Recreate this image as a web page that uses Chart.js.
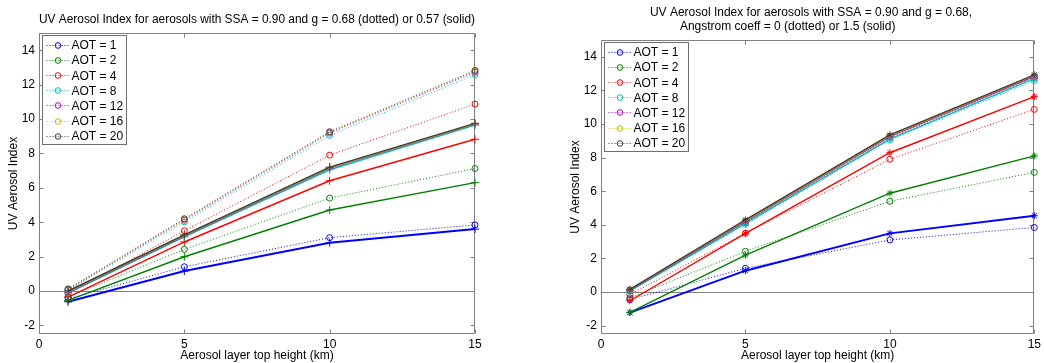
<!DOCTYPE html>
<html><head><meta charset="utf-8">
<script src="https://cdn.jsdelivr.net/npm/chart.js@4.4.1/dist/chart.umd.min.js"></script>
<style>
html,body{margin:0;padding:0;background:#fff;}
#wrap{position:relative;width:1044px;height:363px;overflow:hidden;background:#fff;}
canvas{position:absolute;top:0;}
#c1{left:0;} #c2{left:520px;}
</style></head><body>
<div id="wrap"><canvas id="c1" width="520" height="363"></canvas><canvas id="c2" width="524" height="363"></canvas></div>
<script>
// ---- data ----
const heights = [1, 5, 10, 15];
const aotValues = [1, 2, 4, 8, 12, 16, 20];
const aotColors = ['#0000ff', '#008000', '#ff0000', '#00bfbf', '#bf00bf', '#bfbf00', '#3c3c3c'];
const yTickValues = [-2, 0, 2, 4, 6, 8, 10, 12, 14];
const xTickValues = [0, 5, 10, 15];

// dotted: SSA 0.90, g = 0.68, Angstrom 0 (same in both panels)
const dotAOT1  = [-0.45, 1.41, 3.10, 3.84];
const dotAOT2  = [-0.35, 2.42, 5.40, 7.12];
const dotAOT4  = [-0.15, 3.50, 7.90, 10.87];
const dotAOT8  = [0.04, 4.02, 9.05, 12.58];
const dotAOT12 = [0.08, 4.12, 9.18, 12.72];
const dotAOT16 = [0.10, 4.16, 9.22, 12.78];
const dotAOT20 = [0.12, 4.20, 9.26, 12.82];

// left solid: g = 0.57
const g57AOT1  = [-0.63, 1.16, 2.81, 3.60];
const g57AOT2  = [-0.55, 1.99, 4.71, 6.30];
const g57AOT4  = [-0.35, 2.85, 6.41, 8.82];
const g57AOT8  = [-0.12, 3.14, 7.05, 9.64];
const g57AOT12 = [-0.06, 3.21, 7.14, 9.70];
const g57AOT16 = [-0.03, 3.24, 7.17, 9.72];
const g57AOT20 = [0.00, 3.27, 7.20, 9.75];

// right solid: Angstrom coeff 1.5
const ang15AOT1  = [-1.23, 1.27, 3.49, 4.54];
const ang15AOT2  = [-1.21, 2.20, 5.88, 8.10];
const ang15AOT4  = [-0.52, 3.49, 8.29, 11.63];
const ang15AOT8  = [0.06, 4.08, 9.10, 12.70];
const ang15AOT12 = [0.11, 4.20, 9.26, 12.84];
const ang15AOT16 = [0.14, 4.25, 9.31, 12.89];
const ang15AOT20 = [0.16, 4.29, 9.35, 12.93];

const dottedSeries = [dotAOT1, dotAOT2, dotAOT4, dotAOT8, dotAOT12, dotAOT16, dotAOT20];
const leftSolidSeries = [g57AOT1, g57AOT2, g57AOT4, g57AOT8, g57AOT12, g57AOT16, g57AOT20];
const rightSolidSeries = [ang15AOT1, ang15AOT2, ang15AOT4, ang15AOT8, ang15AOT12, ang15AOT16, ang15AOT20];

const leftTitle = 'UV Aerosol Index for aerosols with SSA = 0.90 and g = 0.68 (dotted) or 0.57 (solid)';
const rightTitle = ['UV Aerosol Index for aerosols with SSA = 0.90 and g = 0.68,    ', 'Angstrom coeff = 0 (dotted) or 1.5 (solid)                  '];
const xTitle = 'Aerosol layer top height (km)';
const yTitle = 'UV Aerosol Index';

// ---- rendering ----
Chart.defaults.font.family = '"Liberation Sans", Arial, sans-serif';
Chart.defaults.font.size = 12;
Chart.defaults.color = '#000';

const AXIS = '#808080';

const framePlugin = {
  id: 'frame',
  beforeDatasetsDraw(chart) {
    const {ctx, chartArea: a, scales: {x, y}} = chart;
    const L = Math.round(a.left) + 0.5, R = Math.round(a.right) - 0.5;
    const T = Math.round(a.top) + 0.5, B = Math.round(a.bottom) - 0.5;
    ctx.save();
    ctx.strokeStyle = AXIS; ctx.lineWidth = 1;
    ctx.beginPath();
    ctx.rect(L, T, R - L, B - T);
    x.ticks.forEach(t => {
      const px = Math.round(x.getPixelForValue(t.value)) + 0.5;
      ctx.moveTo(px, B); ctx.lineTo(px, B - 4);
      ctx.moveTo(px, T); ctx.lineTo(px, T + 4);
    });
    y.ticks.forEach(t => {
      const py = Math.round(y.getPixelForValue(t.value)) + 0.5;
      ctx.moveTo(L, py); ctx.lineTo(L + 4, py);
      ctx.moveTo(R, py); ctx.lineTo(R - 4, py);
    });
    ctx.stroke();
    ctx.restore();
  }
};

const boxLegendPlugin = {
  id: 'boxLegend',
  afterDraw(chart) {
    const {ctx, chartArea: a} = chart;
    const items = chart.data.datasets.filter(d => d.inLegend);
    const bx = Math.round(a.left) + 3.5, by = Math.round(a.top) + 2.5;
    const bw = 84, rowH = 15.1, bh = 109;
    ctx.save();
    ctx.fillStyle = '#fff';
    ctx.fillRect(bx, by, bw, bh);
    ctx.strokeStyle = '#6e6e6e'; ctx.lineWidth = 1;
    ctx.strokeRect(bx, by, bw, bh);
    ctx.font = '12px "Liberation Sans", Arial, sans-serif';
    ctx.textBaseline = 'middle'; ctx.textAlign = 'left';
    items.forEach((d, i) => {
      const cy = by + 9.5 + i * rowH;
      ctx.strokeStyle = d.borderColor;
      ctx.setLineDash([1, 2]);
      ctx.beginPath(); ctx.moveTo(bx + 4, Math.round(cy) + 0.5); ctx.lineTo(bx + 27, Math.round(cy) + 0.5); ctx.stroke();
      ctx.setLineDash([]);
      ctx.beginPath(); ctx.arc(bx + 15.5, Math.round(cy) + 0.5, 2.8, 0, Math.PI * 2); ctx.stroke();
      ctx.fillStyle = '#000';
      ctx.fillText(d.label, bx + 29, cy + 1);
    });
    ctx.restore();
  }
};

function buildDatasets(solidSeries, solidMarker, solidRadius) {
  const ds = [];
  aotValues.forEach((a, i) => {
    ds.push({
      label: 'AOT = ' + a, inLegend: true,
      data: heights.map((h, j) => ({x: h, y: dottedSeries[i][j]})),
      borderColor: aotColors[i], borderWidth: 1, borderDash: [1, 2],
      pointStyle: 'circle', pointRadius: 3, pointBorderWidth: 1,
      pointBorderColor: aotColors[i], pointBackgroundColor: 'rgba(0,0,0,0)',
      fill: false, tension: 0, clip: false, order: 200 - i
    });
  });
  aotValues.forEach((a, i) => {
    ds.push({
      label: 'AOT = ' + a + ' solid', inLegend: false,
      data: heights.map((h, j) => ({x: h, y: solidSeries[i][j]})),
      borderColor: aotColors[i], borderWidth: i === 0 ? 2 : 1.4,
      pointStyle: solidMarker, pointRadius: solidRadius, pointBorderWidth: 1,
      pointBorderColor: aotColors[i], pointBackgroundColor: aotColors[i],
      fill: false, tension: 0, clip: false, order: 100 - i
    });
  });
  return ds;
}

function makePanel(id, datasets, title, titlePad, layoutPad) {
  return new Chart(document.getElementById(id), {
    type: 'line',
    data: {datasets},
    options: {
      responsive: false, animation: false, events: [],
      layout: {padding: layoutPad},
      plugins: {
        legend: {display: false},
        tooltip: {enabled: false},
        title: {display: true, text: title, fullSize: false, color: '#000',
                font: {size: 12, weight: 'normal', lineHeight: 1.2}, padding: titlePad}
      },
      scales: {
        x: {
          type: 'linear', min: 0, max: 15,
          afterBuildTicks: s => { s.ticks = xTickValues.map(v => ({value: v})); },
          afterFit: s => { s.height = 29; },
          ticks: {padding: 3, color: '#000', font: {size: 12}},
          grid: {display: false, drawTicks: false},
          border: {display: false},
          title: {display: true, text: xTitle, color: '#000', font: {size: 12}, padding: {top: 2, bottom: 0.3}}
        },
        y: {
          type: 'linear', min: -2.5, max: 15,
          afterBuildTicks: s => { s.ticks = yTickValues.map(v => ({value: v})); },
          afterFit: s => { s.width = 39; },
          ticks: {padding: 4, color: '#000', font: {size: 12}},
          grid: {drawTicks: false, lineWidth: 1,
                 color: c => (c.tick && c.tick.value === 0) ? AXIS : 'rgba(0,0,0,0)'},
          border: {display: false},
          title: {display: true, text: yTitle, color: '#000', font: {size: 12}, padding: {top: 6.5, bottom: 0}}
        }
      }
    },
    plugins: [framePlugin, boxLegendPlugin]
  });
}

makePanel('c1', buildDatasets(leftSolidSeries, 'cross', 4), leftTitle,
          {top: 12.3, bottom: 6.3}, {left: 0, right: 45, top: 0, bottom: 0});
makePanel('c2', buildDatasets(rightSolidSeries, 'star', 3.5), rightTitle,
          {top: 5.3, bottom: 5.9}, {left: 42, right: 8, top: 0, bottom: 0});
</script></body></html>
